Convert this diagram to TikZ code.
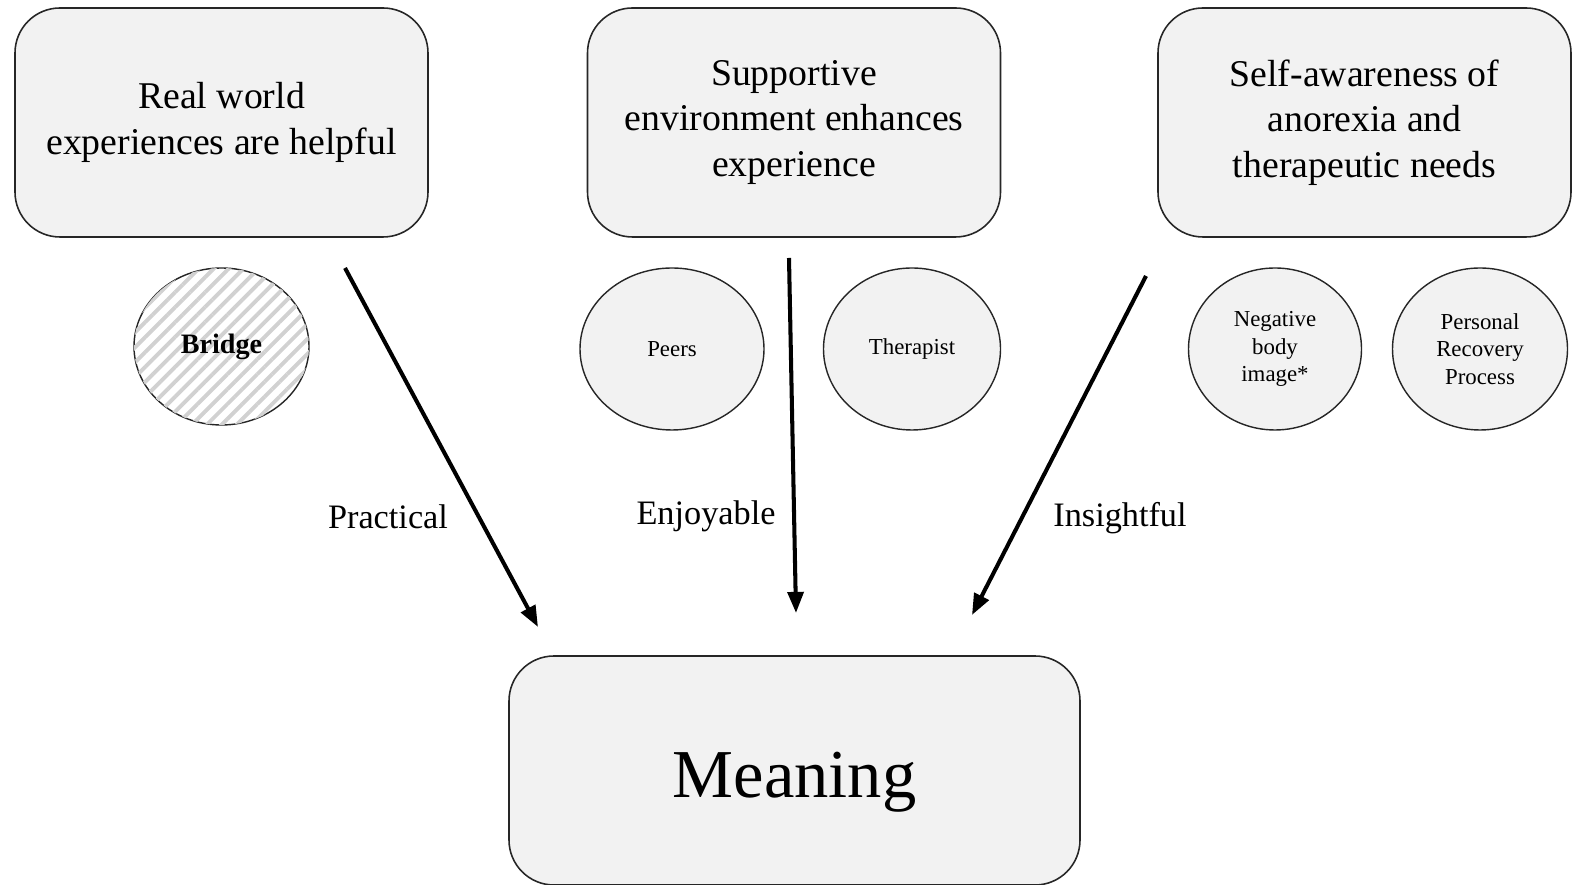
\documentclass[tikz,border=0pt]{standalone}
\usepackage{fontspec}
\setmainfont{Liberation Serif}
\usepackage{tikz}
\usetikzlibrary{positioning, calc, shapes.geometric, arrows.meta, patterns.meta}
\definecolor{boxgrey}{HTML}{F2F2F2}
\tikzset{theme/.style={rectangle, rounded corners=0.9cm, minimum width=8.26cm, minimum height=4.58cm, align=center, draw=black!85, line width=0.9pt, fill=boxgrey, font=\fontsize{21.5}{26}\selectfont},
         meaning/.style={theme, minimum width=11.42cm, text height=39pt, text depth=8.5pt, font=\fontsize{39}{45}\selectfont},
         sub/.style={ellipse, minimum width=3.5cm, minimum height=3.24cm, inner sep=0pt, align=center, draw=black!85, line width=0.8pt, fill=boxgrey, font=\fontsize{13}{15.5}\selectfont},
         hatched/.style={sub, fill=white, postaction={pattern={Lines[angle=45, distance=6pt, line width=2.2pt]}, pattern color=black!18}},
         flow/.style={line width=2.3pt, -{Triangle[length=12pt, width=9pt]}},
         tag/.style={font=\fontsize{19.5}{23}\selectfont}}

\begin{document}
\begin{tikzpicture}
        \useasboundingbox (0,0) rectangle (31.46,17.7);
        \node (real)[theme] at (4.43,15.25) {Real world\\experiences are helpful};
        \node (support)[theme] at (15.88,15.25) {Supportive\\environment enhances\\experience};
        \node (aware)[theme] at (27.29,15.25) {Self-awareness of\\anorexia and\\therapeutic needs};
        \node (mean)[meaning] at (15.89,2.29) {Meaning};
        \node (bridge)[hatched, minimum width=3.5cm, minimum height=3.14cm] at (4.43,10.77) {\fontsize{16}{19}\selectfont\bfseries Bridge};
        \node (peers)[sub, minimum width=3.68cm] at (13.44,10.72) {Peers};
        \node (therapist)[sub, minimum width=3.54cm] at (18.24,10.72) {Therapist};
        \node (negbody)[sub, minimum width=3.46cm] at (25.5,10.72) {Negative\\body\\image*};
        \node (recovery)[sub] at (29.6,10.72) {Personal\\Recovery\\Process};
        % arrow ends
        \coordinate (pracA) at (6.9,12.34);
        \coordinate (pracB) at (10.76,5.16);
        \coordinate (enjA) at (15.78,12.54);
        \coordinate (enjB) at (15.92,5.44);
        \coordinate (insA) at (22.92,12.18);
        \coordinate (insB) at (19.44,5.4);
        \draw [flow] (pracA) -- (pracB);
        \draw [flow] (enjA) -- (enjB);
        \draw [flow] (insA) -- (insB);
        \node (practical)[tag] at (7.76,7.36) {Practical};
        \node (enjoyable)[tag] at (14.12,7.38) {Enjoyable};
        \node (insightful)[tag] at (22.4,7.34) {Insightful};
    \end{tikzpicture}
\end{document}
